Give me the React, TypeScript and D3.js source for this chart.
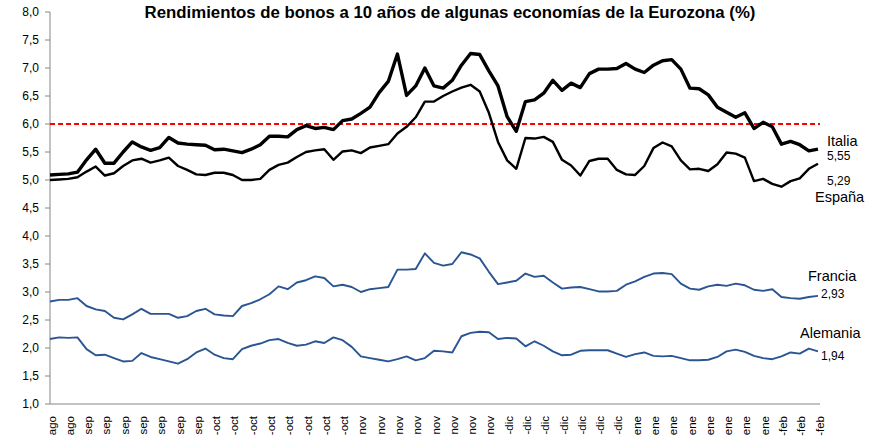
import React from 'react';
import * as d3 from 'd3';

const title = 'Rendimientos de bonos a 10 años de algunas economías de la Eurozona (%)';

// one label every second observation (only the month part is visible under the axis)
const dateLabels = [
  'ago', 'ago',
  'sep', 'sep', 'sep', 'sep', 'sep', 'sep', 'sep',
  '-oct', '-oct', '-oct', '-oct', '-oct', '-oct', '-oct', '-oct',
  'nov', 'nov', 'nov', 'nov', 'nov', 'nov', 'nov', 'nov',
  '-dic', '-dic', '-dic', '-dic', '-dic', '-dic', '-dic',
  'ene', 'ene', 'ene', 'ene', 'ene', 'ene', 'ene', 'ene',
  '-feb', '-feb', '-feb',
];

const italia = [
  5.09, 5.10, 5.11, 5.14, 5.36, 5.55, 5.30, 5.30, 5.50, 5.68,
  5.59, 5.53, 5.58, 5.76, 5.66, 5.64, 5.63, 5.62, 5.54, 5.55,
  5.52, 5.49, 5.55, 5.63, 5.78, 5.78, 5.77, 5.90, 5.97, 5.92,
  5.94, 5.90, 6.06, 6.09, 6.19, 6.30, 6.56, 6.76, 7.25, 6.51,
  6.68, 7.00, 6.68, 6.64, 6.78, 7.05, 7.26, 7.24, 6.95, 6.68,
  6.13, 5.87, 6.40, 6.43, 6.55, 6.78, 6.60, 6.73, 6.65, 6.90,
  6.98, 6.98, 6.99, 7.08, 6.98, 6.92, 7.05, 7.13, 7.15, 6.98,
  6.64, 6.63, 6.52, 6.30, 6.21, 6.12, 6.20, 5.92, 6.03, 5.95,
  5.64, 5.69, 5.63, 5.52, 5.55,
];

const espana = [
  5.00, 5.01, 5.02, 5.05, 5.15, 5.24, 5.08, 5.12, 5.25, 5.35,
  5.38, 5.31, 5.35, 5.40, 5.25, 5.18, 5.10, 5.09, 5.13, 5.13,
  5.09, 5.00, 5.00, 5.02, 5.18, 5.27, 5.31, 5.41, 5.50, 5.53,
  5.55, 5.36, 5.51, 5.53, 5.48, 5.58, 5.61, 5.64, 5.83, 5.95,
  6.12, 6.40, 6.40, 6.50, 6.58, 6.65, 6.70, 6.58, 6.20, 5.68,
  5.35, 5.20, 5.75, 5.74, 5.77, 5.68, 5.36, 5.26, 5.08, 5.34,
  5.38, 5.38, 5.18, 5.10, 5.09, 5.25, 5.57, 5.67, 5.60, 5.35,
  5.19, 5.20, 5.16, 5.28, 5.49, 5.47, 5.40, 4.98, 5.02, 4.93,
  4.88, 4.98, 5.03, 5.20, 5.29,
];

const francia = [
  2.83, 2.86, 2.86, 2.89, 2.75, 2.69, 2.66, 2.54, 2.51, 2.60,
  2.70, 2.61, 2.61, 2.61, 2.54, 2.57, 2.66, 2.70, 2.60, 2.58,
  2.57, 2.75, 2.80, 2.87, 2.96, 3.10, 3.05, 3.17, 3.21, 3.28,
  3.25, 3.10, 3.13, 3.09, 3.00, 3.05, 3.07, 3.09, 3.40, 3.40,
  3.41, 3.69, 3.52, 3.47, 3.50, 3.71, 3.67, 3.60, 3.36, 3.14,
  3.17, 3.20, 3.33, 3.27, 3.29, 3.17, 3.06, 3.08, 3.09, 3.05,
  3.01, 3.01, 3.02, 3.13, 3.19, 3.27, 3.33, 3.34, 3.32, 3.15,
  3.06, 3.04, 3.10, 3.13, 3.11, 3.15, 3.12, 3.04, 3.02, 3.05,
  2.91, 2.89, 2.88, 2.91, 2.93,
];

const alemania = [
  2.16, 2.19, 2.18, 2.19, 1.98, 1.87, 1.88, 1.82, 1.76, 1.77,
  1.91, 1.84, 1.80, 1.76, 1.72, 1.80, 1.92, 1.99, 1.88, 1.82,
  1.80, 1.98, 2.04, 2.08, 2.14, 2.16, 2.09, 2.04, 2.06, 2.12,
  2.09, 2.19, 2.14, 2.02, 1.85, 1.82, 1.79, 1.76, 1.80, 1.85,
  1.78, 1.82, 1.95, 1.94, 1.92, 2.21, 2.27, 2.29, 2.28, 2.16,
  2.18, 2.17, 2.03, 2.12, 2.04, 1.94, 1.87, 1.88, 1.95, 1.96,
  1.96, 1.96, 1.90, 1.84, 1.89, 1.92, 1.86, 1.85, 1.86, 1.82,
  1.78, 1.78, 1.79, 1.84, 1.94, 1.97, 1.93, 1.86, 1.82, 1.80,
  1.85, 1.92, 1.90, 1.99, 1.94,
];

const threshold = 6;

const W = 869;
const H = 436;
const left = 50;
const axisRight = 820;
const lastX = 818;
const top = 12;
const bottom = 404;

const blue = '#2A5592';
const font = 'Arial, "Liberation Sans", sans-serif';

const series = [
  { name: 'Italia', values: italia, color: '#000', width: 3.4 },
  { name: 'España', values: espana, color: '#000', width: 2.4 },
  { name: 'Francia', values: francia, color: blue, width: 1.9 },
  { name: 'Alemania', values: alemania, color: blue, width: 1.9 },
];

// end-of-line annotations (Excel text boxes)
const notes = [
  { text: 'Italia', x: 827, y: 146, size: 14.5 },
  { text: '5,55', x: 827, y: 160, size: 12 },
  { text: '5,29', x: 827, y: 185, size: 12 },
  { text: 'España', x: 815, y: 202, size: 14.5 },
  { text: 'Francia', x: 808, y: 281, size: 14.5 },
  { text: '2,93', x: 821, y: 298, size: 12 },
  { text: 'Alemania', x: 800, y: 338, size: 14.5 },
  { text: '1,94', x: 821, y: 360, size: 12 },
];

const es = d3.formatLocale({ decimal: ',', thousands: '.', grouping: [3], currency: ['', ' €'] });
const fmt = es.format('.1f');

export default function App() {
  const n = italia.length;
  const x = d3.scaleLinear().domain([0, n - 1]).range([left, lastX]);
  const y = d3.scaleLinear().domain([1, 8]).range([bottom, top]);
  const yTicks = d3.range(1, 8.001, 0.5);

  const line = d3.line<number>()
    .x((_, i) => x(i))
    .y((d) => y(d));

  return (
    <svg
      width={W}
      height={H}
      style={{ position: 'absolute', left: 0, top: 0, background: '#fff' }}
      fontFamily={font}
    >
      <rect width={W} height={H} fill="#fff" />
      <text x={450} y={18} textAnchor="middle" fontSize={16.8} fontWeight="bold">
        {title}
      </text>

      {/* y axis */}
      <line x1={left} x2={left} y1={top} y2={bottom} stroke="#868686" />
      {yTicks.map((t) => (
        <g key={t}>
          <line x1={left - 5} x2={left} y1={y(t)} y2={y(t)} stroke="#868686" />
          <text x={39} y={y(t)} dy="0.35em" textAnchor="end" fontSize={12} fill="#000">
            {fmt(t)}
          </text>
        </g>
      ))}

      {/* x axis */}
      <line x1={left} x2={axisRight} y1={bottom} y2={bottom} stroke="#868686" />
      {dateLabels.map((lab, k) => (
        <text
          key={k}
          transform={`translate(${x(k * 2) + 1.5},${bottom + 12}) rotate(-90)`}
          textAnchor="end"
          dy="0.35em"
          fontSize={11.5}
          fill="#000"
        >
          {lab}
        </text>
      ))}

      {/* 6% reference */}
      <line
        x1={left}
        x2={axisRight}
        y1={y(threshold)}
        y2={y(threshold)}
        stroke="#FF0000"
        strokeWidth={1.8}
        strokeDasharray="5,3"
      />

      {series.map((s) => (
        <path
          key={s.name}
          d={line(s.values) || ''}
          fill="none"
          stroke={s.color}
          strokeWidth={s.width}
          strokeLinejoin="round"
        />
      ))}

      {notes.map((a) => (
        <text key={a.text} x={a.x} y={a.y} fontSize={a.size} fill="#000">
          {a.text}
        </text>
      ))}
    </svg>
  );
}
